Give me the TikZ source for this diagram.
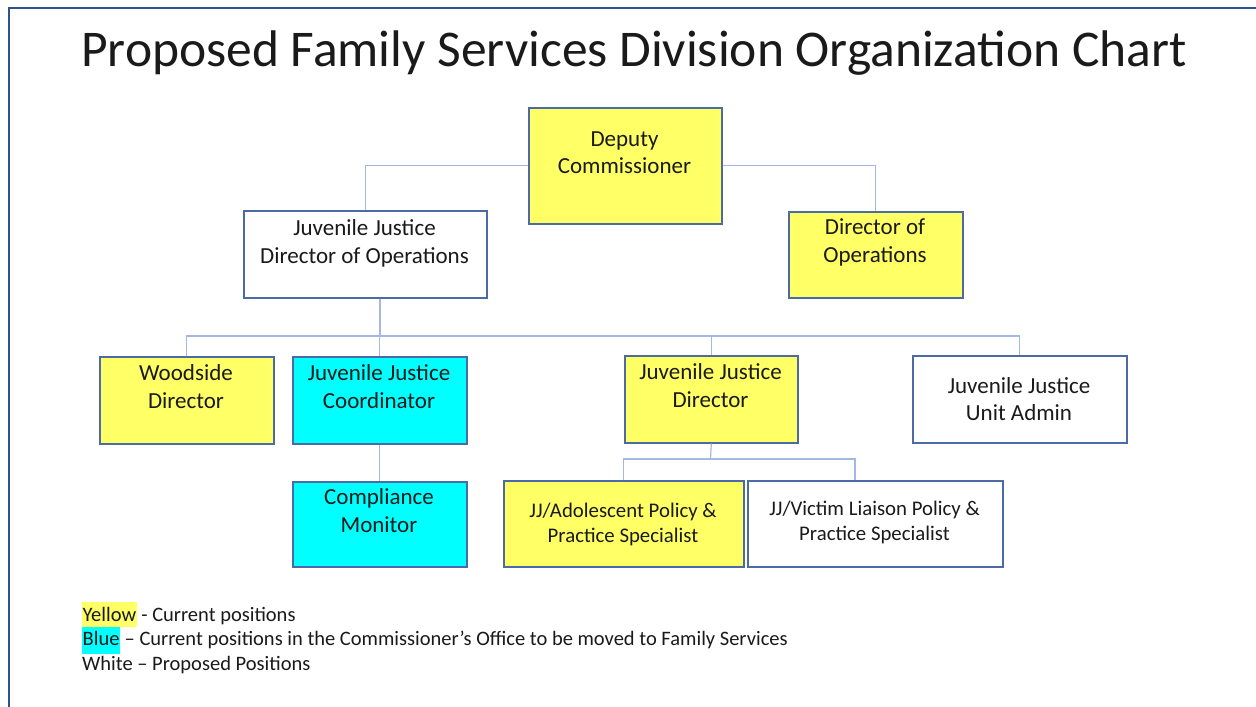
\documentclass[tikz,border=0pt]{standalone}
\usepackage{fontspec}
\setmainfont{Carlito}
\definecolor{boxY}{HTML}{FFFF66}
\definecolor{boxC}{HTML}{00FFFF}
\definecolor{edgeB}{HTML}{4C6BA6}
\definecolor{lineB}{HTML}{A3B8E2}
\definecolor{frameB}{HTML}{2F5290}
\definecolor{txt}{HTML}{1A1A1A}
\setlength{\fboxsep}{0.5pt}
\tikzset{
  box/.style={draw=edgeB, line width=1.6pt, anchor=north west, inner sep=0pt},
  yel/.style={box, fill=boxY},
  cya/.style={box, fill=boxC},
  wht/.style={box, fill=white},
  lbl/.style={font=\fontsize{23}{27.5}\selectfont, align=center, text=txt, inner sep=0pt},
  lbls/.style={font=\fontsize{20.8}{25}\selectfont, align=center, text=txt, inner sep=0pt},
  leg/.style={font=\fontsize{20.5}{24}\selectfont, text=txt, inner sep=0pt, anchor=base west},
  conn/.style={draw=lineB, line width=1.2pt},
  frame/.style={draw=frameB, line width=2.5pt},
}
\begin{document}
\begin{tikzpicture}[x=1pt,y=-1pt]
\useasboundingbox (0,0) rectangle (1256,707);
\fill[white] (0,0) rectangle (1256,707);
\draw[frame] (9,708) -- (9,8) -- (1257,8);

\node[font=\fontsize{51.5}{60}\selectfont, text=txt, inner sep=0pt, anchor=base] (title) at (634,66) {Proposed Family Services Division Organization Chart};

% boxes
\node[yel, minimum width=193pt, minimum height=116pt] (dep) at (528,107) {};
\node[wht, minimum width=243pt, minimum height=87pt] (jjops) at (243,210) {};
\node[yel, minimum width=174pt, minimum height=86pt] (ops) at (788,211) {};
\node[yel, minimum width=174pt, minimum height=87pt] (wood) at (99,356) {};
\node[cya, minimum width=174pt, minimum height=87pt] (coord) at (292,356) {};
\node[cya, minimum width=174pt, minimum height=85pt] (comp) at (292,481) {};
\node[yel, minimum width=173pt, minimum height=87pt] (jjdir) at (624,355) {};
\node[wht, minimum width=214pt, minimum height=87pt] (admin) at (912,355) {};
\node[yel, minimum width=240pt, minimum height=86pt] (adol) at (503,480) {};
\node[wht, minimum width=255pt, minimum height=86pt] (vict) at (747,480) {};

% texts
\node[lbl] (tdep) at (624.5,154.5) {\strut Deputy\\\strut Commissioner};
\node[lbl] (tjjops) at (364.5,244) {\strut Juvenile Justice\\\strut Director of Operations};
\node[lbl] (tops) at (875,243) {\strut Director of\\\strut Operations};
\node[lbl] (twood) at (186,389) {\strut Woodside\\\strut Director};
\node[lbl] (tcoord) at (379,389) {\strut Juvenile Justice\\\strut Coordinator};
\node[lbl] (tcomp) at (379,513) {\strut Compliance\\\strut Monitor};
\node[lbl] (tjjdir) at (710.5,388) {\strut Juvenile Justice\\\strut Director};
\node[lbl] (tadmin) at (1019,401.5) {\strut Juvenile Justice\\\strut Unit Admin};
\node[lbls] (tadol) at (623,525) {\strut JJ/Adolescent Policy \&\\\strut Practice Specialist};
\node[lbls] (tvict) at (874.5,523) {\strut JJ/Victim Liaison Policy \&\\\strut Practice Specialist};

% connectors
\coordinate (bus) at (380,336);
\coordinate (bus2) at (710.5,459);
\coordinate (vdrop) at (855,459);
\draw[conn] (dep.west) -| (jjops.north);
\draw[conn] (dep.east) -| (ops.north);
\draw[conn] (jjops.south -| bus) -- (bus);
\draw[conn] (wood.north) |- (admin.north |- bus) -- (admin.north);
\draw[conn] (bus -| coord.north) -- (coord.north);
\draw[conn] (bus -| jjdir.north) -- (jjdir.north);
\draw[conn] (coord.south) -- (comp.north);
\draw[conn] (jjdir.south) -- (bus2);
\draw[conn] (adol.north) |- (vdrop) -- (vdrop |- vict.north);

% legend
\node[leg] (l1) at (82,621.5) {\colorbox{boxY}{\rule[-4.5pt]{0pt}{24pt}Yellow} - Current positions};
\node[leg] (l2) at (82,645.5) {\colorbox{boxC}{\rule[-7.5pt]{0pt}{26pt}Blue} – Current positions in the Commissioner’s Office to be moved to Family Services};
\node[leg] (l3) at (82,670) {White – Proposed Positions};
\end{tikzpicture}
\end{document}
